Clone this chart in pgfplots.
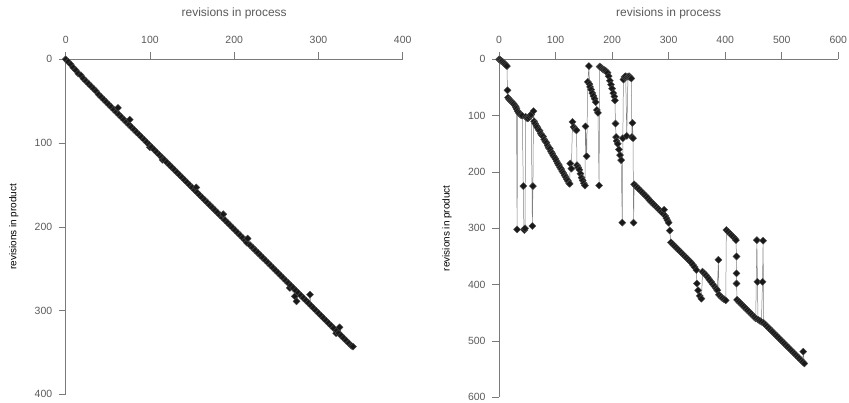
\documentclass[border=0pt]{standalone}
\usepackage{fontspec}
\setmainfont{Liberation Sans}
\usepackage{pgfplots}
\pgfplotsset{compat=1.18}

\definecolor{axgray}{HTML}{7A7A7A}
\definecolor{txtgray}{HTML}{5A5A5A}
\definecolor{lngray}{HTML}{808080}

\pgfplotsset{
  rplot/.style={
    scale only axis,
    y dir=reverse,
    axis x line*=top,
    axis y line*=left,
    clip=false,
    tick align=outside,
    major tick length=7bp,
    axis line style={axgray, line width=0.6pt},
    every tick/.style={axgray, line width=0.6pt},
    tick label style={font=\fontsize{10.5}{12}\selectfont, text=txtgray},
    xticklabel style={yshift=5bp},
    yticklabel style={xshift=-3bp},
    /pgf/number format/assume math mode=true,
    label style={font=\fontsize{12}{14}\selectfont, text=txtgray},
    every axis y label/.style={at={(axis description cs:0,0.5)}, xshift=-52bp,
      rotate=90, anchor=center},
    xlabel style={yshift=11bp},
    xlabel={revisions in process},
    ylabel={revisions in product},
  },
  rline/.style={
    draw=lngray, line width=0.5pt,
    mark=square*, mark size=2.5pt,
    mark options={rotate=45, fill=black!90, draw=black!70, line width=0.4pt},
  },
}

\begin{document}
\begin{tikzpicture}
\useasboundingbox (-65.7bp,-343.7bp) rectangle (783.3bp,59.3bp);

\begin{axis}[rplot,
  at={(0,0)}, anchor=north west,
  width=337bp, height=335bp,
  xmin=0, xmax=400, ymin=0, ymax=400,
  xtick={0,100,...,400}, ytick={0,100,...,400},
]
\addplot[rline] coordinates {
(0,0)(3,3)(6,6)(9,10)(12,13)(15,17)(18,19)(21,23)(24,26)(27,29)(30,32)(33,35)
(36,38)(39,42)(42,45)(45,48)(48,51)(51,54)(54,57)(57,60)(60,63)(62,58)(63,66)
(66,69)(69,72)(72,75)(75,78)(76,72)(78,81)(81,84)(84,87)(87,90)(90,93)(93,96)
(96,99)(99,102)(100,105)(102,105)(105,108)(108,111)(111,114)(114,117)(115,120)
(117,120)(120,123)(123,126)(126,129)(129,132)(132,135)(135,138)(138,141)
(141,144)(144,147)(147,150)(150,153)(153,156)(155,153)(156,159)(159,162)
(162,165)(165,168)(168,171)(171,174)(174,177)(177,180)(180,183)(183,186)
(186,189)(187,185)(189,192)(192,195)(195,198)(198,201)(201,204)(204,207)
(207,210)(210,213)(213,216)(215,219)(216,214)(219,222)(222,225)(225,228)
(228,231)(231,234)(234,237)(237,240)(240,243)(243,246)(246,249)(249,252)
(252,255)(255,258)(258,261)(261,264)(264,267)(266,273)(267,270)(270,273)
(272,283)(273,276)(274,289)(276,279)(279,282)(282,285)(285,288)(288,291)
(290,281)(291,294)(294,297)(297,300)(300,303)(303,306)(306,309)(309,312)
(312,315)(315,318)(318,321)(321,327)(322,324)(324,327)(325,320)(327,330)
(330,333)(333,336)(336,339)(339,342)(341,343)
};
\end{axis}

\begin{axis}[rplot,
  at={(433.3bp,0)}, anchor=north west,
  width=339.3bp, height=338bp,
  xmin=0, xmax=600, ymin=0, ymax=600,
  xtick={0,100,...,600}, ytick={0,100,...,600},
]
\addplot[rline] coordinates {
(0,0)(2,1)(4,3)(6,4)(8,6)(10,8)(12,10)(14,12)(15,55)(16,68)(18,71)(20,73)
(22,75)(24,77)(26,79)(28,82)(30,85)(31,88)(32,302)(33,92)(35,95)(37,97)
(39,99)(41,100)(43,225)(44,302)(45,303)(46,300)(47,102)(49,104)(51,105)
(53,103)(55,100)(57,98)(59,296)(60,225)(61,92)(62,110)(64,114)(66,118)
(68,121)(70,125)(72,127)(74,132)(76,135)(78,137)(80,142)(82,146)(84,148)
(86,153)(88,157)(90,159)(92,164)(94,167)(96,171)(98,174)(100,177)(102,181)
(104,185)(106,188)(108,192)(110,195)(112,199)(114,202)(116,206)(118,209)
(120,213)(122,216)(124,220)(125,221)(126,185)(128,194)(130,111)(132,120)
(134,123)(136,125)(137,126)(138,188)(140,192)(142,196)(144,203)(146,210)
(148,215)(150,220)(152,224)(153,119)(155,172)(157,40)(159,12)(160,44)
(161,49)(163,54)(165,60)(167,65)(169,70)(171,76)(173,90)(175,95)(177,224)
(178,13)(180,14)(182,16)(184,18)(186,19)(188,20)(190,22)(192,24)(194,30)
(196,38)(198,45)(200,52)(202,60)(204,66)(205,73)(206,114)(207,138)(208,145)
(210,150)(212,160)(214,170)(216,179)(218,290)(219,140)(220,36)(222,31)
(224,30)(226,136)(228,31)(230,30)(232,32)(234,34)(235,138)(236,113)(237,140)
(238,290)(239,222)(242,225)(245,228)(248,231)(251,234)(254,237)(257,240)
(260,243)(263,246)(266,250)(269,253)(272,256)(275,259)(278,262)(281,265)
(284,268)(287,271)(290,274)(292,267)(294,278)(296,282)(298,286)(300,290)
(302,304)(304,325)(307,328)(310,331)(313,334)(316,337)(319,340)(322,343)
(325,346)(328,349)(331,352)(334,355)(337,358)(340,361)(343,365)(346,369)
(349,374)(350,398)(352,410)(355,420)(358,425)(360,377)(363,380)(366,383)
(369,387)(372,391)(375,395)(378,399)(381,403)(384,407)(386,410)(388,356)
(389,418)(392,421)(395,424)(398,426)(401,428)(402,303)(405,306)(408,309)
(411,312)(414,315)(417,318)(419,321)(420,350)(420,380)(420,398)(421,427)
(424,430)(427,433)(430,436)(433,439)(436,442)(439,445)(442,448)(445,451)
(448,454)(451,457)(454,460)(456,321)(457,395)(458,462)(461,464)(464,466)
(466,395)(467,322)(468,468)(471,471)(474,474)(477,477)(480,480)(483,483)
(486,486)(489,489)(492,492)(495,495)(498,498)(501,501)(504,504)(507,507)
(510,510)(513,513)(516,516)(519,519)(522,522)(525,525)(528,528)(531,531)
(534,534)(537,537)(538,519)(540,540)
};
\end{axis}
\end{tikzpicture}
\end{document}
